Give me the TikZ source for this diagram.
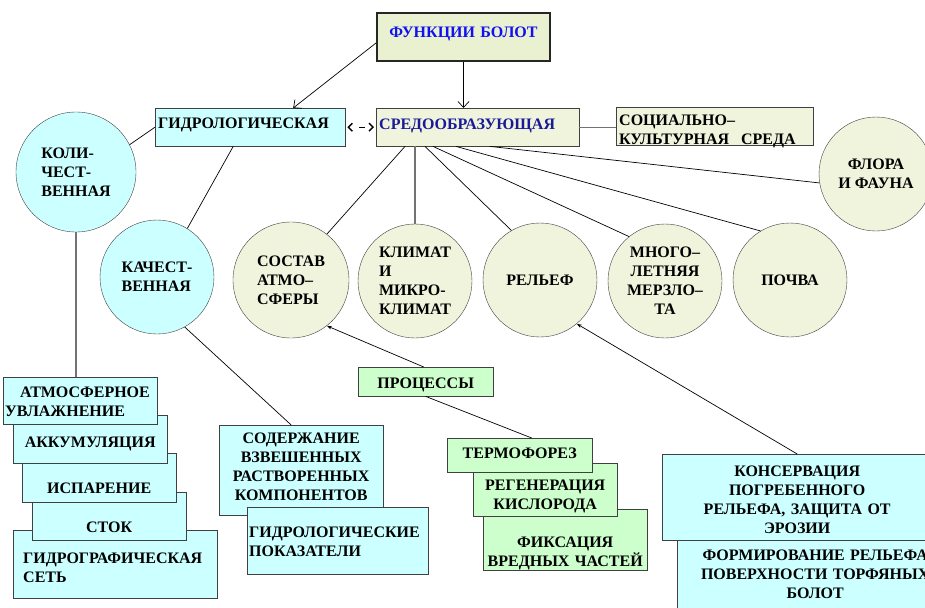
\documentclass[tikz,border=0pt]{standalone}
\usepackage{fontspec}
\setmainfont{Liberation Serif}
\usetikzlibrary{arrows.meta}
\definecolor{cyanbg}{HTML}{CCFFFF}
\definecolor{palebg}{HTML}{F0F4DC}
\definecolor{funbg}{HTML}{EAF1D0}
\definecolor{greenbg}{HTML}{CCFFCC}
\definecolor{funblue}{HTML}{1010F0}
\definecolor{navytext}{HTML}{1A1A99}
\definecolor{edge}{HTML}{404040}

\begin{document}
\begin{tikzpicture}[x=1pt, y=-1pt,
    font=\fontsize{16}{19}\selectfont\bfseries,
    box/.style={draw=edge, anchor=north west, inner xsep=3pt, inner ysep=0pt, align=center},
    sz/.style n args={3}{text width=#1, text height=#2, text depth=#3},
    cbox/.style={box, fill=cyanbg},
    pbox/.style={box, fill=palebg},
    gbox/.style={box, fill=greenbg},
    circ/.style={circle, draw=edge, inner sep=0pt, minimum size=114pt, fill=palebg, align=center},
    ccirc/.style={circ, fill=cyanbg},
    ln/.style={black, line width=0.7pt},
    gln/.style={black!55, line width=1.3pt},
    ar/.style={ln, -{Straight Barb[length=6pt, width=11pt]}},
    tip/.style={ln, -{Stealth[length=5pt, width=3.5pt]}}
  ]
    \useasboundingbox (0,0) rectangle (925,607);
    \clip (0,0) rectangle (925,607);
    \node[box, fill=funbg, draw=black!85, line width=2pt, text=funblue, sz={167pt}{24.5pt}{23.5pt}] (fun) at (376,12) {ФУНКЦИИ БОЛОТ};
    \node[cbox, align=left, sz={184pt}{20.5pt}{17.5pt}] (gidro) at (155,108) {ГИДРОЛОГИЧЕСКАЯ};
    \node[pbox, align=left, text=navytext, sz={197pt}{21.5pt}{16.5pt}] (sred) at (376,108) {СРЕДООБРАЗУЮЩАЯ};
    \node[pbox, align=left, sz={191pt}{18.5pt}{19.5pt}] (soc) at (616,107) {СОЦИАЛЬНО–\\КУЛЬТУРНАЯ\hspace{12pt}СРЕДА};
    \node[ccirc, minimum size=120pt, align=left] (kol) at (76,172) {КОЛИ-\\ЧЕСТ-\\ВЕННАЯ};
    \node[ccirc, align=left] (kach) at (157,277) {КАЧЕСТ-\\ВЕННАЯ};
    \node[circ, minimum size=116pt, align=left] (sost) at (291,280) {СОСТАВ\\АТМО–\\СФЕРЫ};
    \node[circ, align=left] (klim) at (415,281) {КЛИМАТ\\И\\МИКРО-\\КЛИМАТ};
    \node[circ] (rel) at (540,280) {РЕЛЬЕФ};
    \node[circ] (mnogo) at (665,281) {МНОГО–\\ЛЕТНЯЯ\\МЕРЗЛО–\\ТА};
    \node[circ] (pochva) at (790,280) {ПОЧВА};
    \node[circ] (flora) at (876,174) {ФЛОРА\\И ФАУНА};
    \node[gbox, sz={129pt}{21pt}{8pt}] (proc) at (358,367) {ПРОЦЕССЫ};
    \node[cbox, align=left, inner xsep=10pt, sz={184pt}{33.5pt}{34.5pt}] (gset) at (13,530) {ГИДРОГРАФИЧЕСКАЯ\\СЕТЬ};
    \node[cbox, sz={148pt}{40pt}{8pt}] (stok) at (32,492) {СТОК};
    \node[cbox, sz={148pt}{40.5pt}{8.5pt}] (isp) at (22,453) {ИСПАРЕНИЕ};
    \node[cbox, sz={148pt}{32.5pt}{15.5pt}] (akk) at (13,415) {АККУМУЛЯЦИЯ};
    \node[cbox, align=left, inner xsep=2pt, sz={150pt}{20.5pt}{26.5pt}] (atm) at (3,377) {\hspace*{15pt}АТМОСФЕРНОЕ\\УВЛАЖНЕНИЕ};
    \node[cbox, sz={158pt}{18.5pt}{71.5pt}] (sod) at (219,425) {СОДЕРЖАНИЕ\\ВЗВЕШЕННЫХ\\РАСТВОРЕННЫХ\\КОМПОНЕНТОВ};
    \node[cbox, align=left, inner xsep=2pt, sz={177pt}{30.5pt}{36.5pt}] (gpok) at (247,507) {ГИДРОЛОГИЧЕСКИЕ\\ПОКАЗАТЕЛИ};
    \node[gbox, sz={158pt}{38.5pt}{22.5pt}] (fix) at (483,509) {ФИКСАЦИЯ\\ВРЕДНЫХ ЧАСТЕЙ};
    \node[gbox, sz={138pt}{27.5pt}{25.5pt}] (reg) at (473,463) {РЕГЕНЕРАЦИЯ\\КИСЛОРОДА};
    \node[gbox, sz={139pt}{20.5pt}{13.5pt}] (term) at (447,438) {ТЕРМОФОРЕЗ};
    \node[cbox, sz={270pt}{22.5pt}{57.5pt}] (form) at (677,538) {ФОРМИРОВАНИЕ РЕЛЬЕФА\\ПОВЕРХНОСТИ ТОРФЯНЫХ\\БОЛОТ};
    \node[cbox, sz={264pt}{22.5pt}{63.5pt}] (kons) at (662,454) {КОНСЕРВАЦИЯ\\ПОГРЕБЕННОГО\\РЕЛЬЕФА, ЗАЩИТА ОТ\\ЭРОЗИИ};
    \draw[ar] ([yshift=-6pt]fun.west) -- ([xshift=43pt]gidro.north);
    \draw[ar] (fun.south) -- (fun.south |- sred.north);
    \draw[black, line width=1.4pt, dash pattern=on 6pt off 14pt, dash phase=10pt, shorten <=2pt, shorten >=2pt,
          {Straight Barb[length=4pt, width=8pt]}-{Straight Barb[length=4pt, width=8pt]}] (gidro.east) -- (sred.west);
    \draw[gln] (sred.east) -- (sred.east -| soc.west);
    \draw[ln] (gidro.west) -- (kol.27);
    \draw[ln] ([xshift=-17pt]gidro.south) -- (kach.58);
    \draw[gln] (kol.south) -- (kol.south |- atm.north);
    \draw[ln] (kach.-61) -- ([xshift=-10pt]sod.north);
    \draw[ln] ([xshift=29pt]sred.south west) -- (sost.52);
    \draw[gln] (klim.north |- sred.south) -- (klim.north);
    \draw[ln] ([xshift=49pt]sred.south west) -- (rel.120);
    \draw[ln] ([xshift=57pt]sred.south west) -- (mnogo.129);
    \draw[ln] ([xshift=80pt]sred.south west) -- (pochva.121);
    \draw[ln] ([xshift=114pt]sred.south west) -- (flora.189);
    \draw[tip] ([xshift=-2pt]proc.north) -- (sost.-52);
    \draw[ln] (proc.south) -- ([xshift=12pt]term.north);
    \draw[tip] (kons.north) -- (rel.-50);
\end{tikzpicture}
\end{document}
